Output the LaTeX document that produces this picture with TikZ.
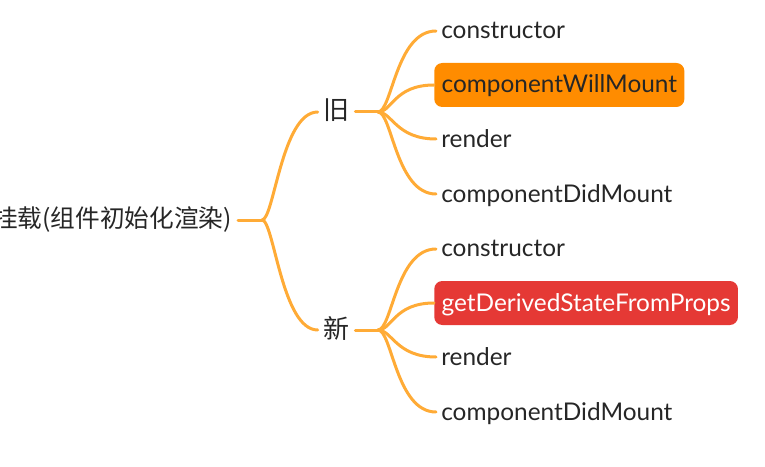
\documentclass[tikz,border=0pt]{standalone}
\usepackage{fontspec}
\setmainfont{Lato}
\newfontfamily\cjk{Noto Sans CJK SC}
\usetikzlibrary{positioning}
\definecolor{branch}{HTML}{FFAB36}
\definecolor{willbox}{HTML}{FF8C00}
\definecolor{newbox}{HTML}{E53935}
\definecolor{ink}{HTML}{262626}

\begin{document}
\begin{tikzpicture}[x=0.75pt,y=-0.75pt,font=\fontsize{18.3}{21}\selectfont,text=ink,
    branchline/.style={draw=branch,line width=2.25pt,line cap=round},
    leaf/.style={anchor=west,inner xsep=3.75pt,inner ysep=0pt,text height=15pt,text depth=3pt},
    hl/.style={leaf,inner xsep=5.5pt,minimum height=33pt,rounded corners=6pt},
    mid/.style={inner sep=0pt,minimum width=27.75pt,font=\cjk\fontsize{19.5}{21}\selectfont,text height=15pt,text depth=3pt}]
    \useasboundingbox (0,0) rectangle (765,467);

    % root and the two groups
    \node[anchor=east,inner xsep=4.5pt,inner ysep=0pt,font=\cjk\fontsize{18.5}{21}\selectfont] (root) at (238,220) {挂载(组件初始化渲染)};
    \coordinate (rfork) at (262,220);
    \node[mid] (old) at (336.5,112) {旧};
    \node[mid] (new) at (336.5,330) {新};
    \coordinate (ofork) at (378,112);
    \coordinate (nfork) at (378,330);

    % old lifecycle
    \foreach \n/\y/\t in {1/31/constructor,3/139/render,4/194/componentDidMount}
        \node[leaf] (o\n) at (436,\y) {\t};
    \node[hl,fill=willbox] (o2) at (434,85) {componentWillMount};

    % new lifecycle
    \foreach \n/\y/\t in {1/249/constructor,3/357/render,4/412/componentDidMount}
        \node[leaf] (n\n) at (436,\y) {\t};
    \node[hl,fill=newbox,text=white] (n2) at (434,303) {getDerivedStateFromProps};

    % connectors
    \draw[branchline] (root.east) -- (rfork);
    \foreach \g in {old,new}
        \draw[branchline] (rfork) .. controls +(12,0) and +(-36,0) .. (\g.west);
    \draw[branchline] (old.east) -- (ofork);
    \draw[branchline] (new.east) -- (nfork);
    \foreach \n in {1,...,4} {
        \draw[branchline] (ofork) .. controls +(14,0) and +(-40,0) .. (o\n.west);
        \draw[branchline] (nfork) .. controls +(14,0) and +(-40,0) .. (n\n.west);
    }
\end{tikzpicture}
\end{document}
